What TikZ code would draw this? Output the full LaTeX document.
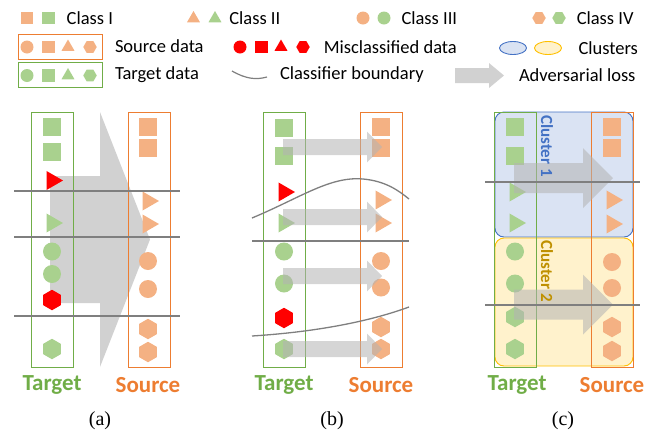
\documentclass[tikz,border=0pt]{standalone}
\usepackage{fontspec}
\setmainfont{Carlito}
\newfontfamily\capfont{Liberation Serif}
\usepackage{tikz}
\usetikzlibrary{shapes.geometric,positioning,calc}
\definecolor{orfill}{HTML}{F4B183}
\definecolor{grfill}{HTML}{A9D18E}
\definecolor{orline}{HTML}{ED7D31}
\definecolor{grline}{HTML}{70AD47}
\definecolor{bdline}{HTML}{7F7F7F}
\definecolor{advgray}{HTML}{B3B3B3}
\definecolor{clonel}{HTML}{4472C4}
\definecolor{clonef}{HTML}{DAE3F3}
\definecolor{cltwol}{HTML}{FFC000}
\definecolor{cltwof}{HTML}{FFF2CC}
\definecolor{cltwot}{HTML}{BF9000}

\begin{document}
\begin{tikzpicture}
[x=1pt,y=-1pt,
every node/.style={inner sep=0pt,outer sep=0pt},
sq/.style={rectangle,minimum size=18pt},
circ/.style={circle,minimum size=18pt},
tri/.style={regular polygon,regular polygon sides=3,shape border rotate=-90,minimum size=22pt},
hex/.style={regular polygon,regular polygon sides=6,shape border rotate=30,minimum size=20.5pt},
lsq/.style={rectangle,minimum size=12.5pt},
lcirc/.style={circle,minimum size=13pt},
ltri/.style={regular polygon,regular polygon sides=3,minimum size=15pt},
lhex/.style={regular polygon,regular polygon sides=6,minimum size=13.5pt},
legtext/.style={font=\fontsize{18.5}{20}\selectfont,anchor=west},
tbox/.style={draw=grline,line width=1pt,minimum width=42pt,minimum height=255pt},
sbox/.style={draw=orline,line width=1pt,minimum width=42pt,minimum height=255pt},
tlab/.style={font=\fontsize{23}{24}\selectfont\bfseries,text=grline},
slab/.style={font=\fontsize{23}{24}\selectfont\bfseries,text=orline},
caplab/.style={font=\capfont\fontsize{20}{22}\selectfont},
bline/.style={draw=bdline,line width=1.3pt},
advarrow/.style={fill=advgray,fill opacity=0.55},
cluster/.style={line width=0.9pt,rounded corners=9pt,minimum width=138pt},
cltext/.style={font=\fontsize{17}{18}\selectfont\bfseries,rotate=-90}]
\useasboundingbox (0,0) rectangle (657,432);

\node[lsq,fill=orfill] (l-o1) at (27,18) {};
\node[lsq,fill=grfill] (l-g1) at (48.5,18) {};
\node[legtext,right=12pt of l-g1] (l-c1) {Class I};
\node[ltri,fill=orfill] (l-o2) at (193.5,18.5) {};
\node[ltri,fill=grfill] (l-g2) at (215,18.5) {};
\node[legtext,right=10pt of l-g2] (l-c2) {Class II};
\node[lcirc,fill=orfill] (l-o3) at (363,18) {};
\node[lcirc,fill=grfill] (l-g3) at (384,18) {};
\node[legtext,right=11pt of l-g3] (l-c3) {Class III};
\node[lhex,fill=orfill] (l-o4) at (539,18) {};
\node[lhex,fill=grfill] (l-g4) at (559,18) {};
\node[legtext,right=11pt of l-g4] (l-c4) {Class IV};

\node[draw=orline,line width=1pt,minimum width=84pt,minimum height=25pt] (l-sbox) at (60,46.5) {};
\node[draw=grline,line width=1pt,minimum width=84pt,minimum height=25pt] (l-tbox) at (60,75) {};
\foreach \s/\x [count=\i] in {lcirc/27,lsq/48.5,ltri/68,lhex/90}{
  \node[\s,fill=orfill] (l-s\i) at (\x,47) {};
  \node[\s,fill=grfill] (l-t\i) at (\x,75.5) {};
  \node[\s,fill=red] (l-r\i) at (\x+213,47) {};
}
\node[legtext,right=13pt of l-sbox] (l-src) {Source data};
\node[legtext,right=13pt of l-tbox] (l-tgt) {Target data};
\node[legtext,right=14pt of l-r4] (l-mis) {Misclassified data};
\draw[bdline,line width=1.2pt] (232,71) .. controls (246,79) and (256,80) .. (267,77);
\node[legtext] (l-bnd) at (280,75) {Classifier boundary};
\fill[fill=advgray,fill opacity=0.6] (455,68) -- (489,68) -- (489,63) -- (504,75.5) -- (489,88) -- (489,83) -- (455,83) -- cycle;
\node[legtext] (l-adv) at (519,75) {Adversarial loss};
\node[ellipse,draw=clonel,fill=clonef,line width=0.9pt,minimum width=27pt,minimum height=13pt] (l-cl1) at (513,48) {};
\node[ellipse,draw=cltwol,fill=cltwof,line width=0.9pt,minimum width=27pt,minimum height=13pt] (l-cl2) at (548,48) {};
\node[legtext,right=17pt of l-cl2] (l-clu) {Clusters};

\fill[fill=advgray,fill opacity=0.6] (50,176) -- (100,176) -- (100,112) -- (150,239.5) -- (100,367) -- (100,303) -- (50,303) -- cycle;
\node[tbox] (a-tbox) at (52,239.5) {};
\node[sbox] (a-sbox) at (149,239.5) {};
\foreach \s/\c/\y [count=\i] in {sq/grfill/127,sq/grfill/152,tri/red/180.5,tri/grfill/223,circ/grfill/251.5,circ/grfill/274,hex/red/300,hex/grfill/349}
  \node[\s,fill=\c] (a-t\i) at (52,\y) {};
\foreach \s/\y [count=\i] in {sq/127,sq/148,tri/201,tri/224,circ/261,circ/289,hex/329,hex/352}
  \node[\s,fill=orfill] (a-s\i) at (148,\y) {};
\foreach \y in {191,237,316}
  \draw[bline] (14,\y) -- (180,\y);
\node[tlab] (a-tl) at (52,385) {Target};
\node[slab] (a-sl) at (148,385) {Source};
\node[caplab] (a-cap) at (100,421) {(a)};

\node[tbox] (b-tbox) at (284,239.5) {};
\node[sbox] (b-sbox) at (381,239.5) {};
\foreach \s/\c/\y [count=\i] in {sq/grfill/127.5,sq/grfill/156,tri/red/192,tri/grfill/223,circ/grfill/251.5,circ/grfill/283.5,hex/red/318,hex/grfill/349}
  \node[\s,fill=\c] (b-t\i) at (284,\y) {};
\foreach \s/\y [count=\i] in {sq/127,sq/148,tri/200,tri/223,circ/261,circ/287.5,hex/327,hex/349}
  \node[\s,fill=orfill] (b-s\i) at (381,\y) {};
\foreach \y in {147,217,276,349}
  \fill[advarrow] (283,\y-8) -- (367,\y-8) -- (367,\y-15.5) -- (382,\y) -- (367,\y+15.5) -- (367,\y+8) -- (283,\y+8) -- cycle;
\draw[bline] (252,218) .. controls (300,198) and (330,176) .. (363,179) .. controls (385,181) and (398,190) .. (409,199);
\draw[bline] (252,241) -- (409,241);
\draw[bline] (252,336) .. controls (300,333) and (360,325) .. (409,307);
\node[tlab] (b-tl) at (284,385) {Target};
\node[slab] (b-sl) at (381,385) {Source};
\node[caplab] (b-cap) at (332,421) {(b)};

\node[cluster,draw=clonel,fill=clonef,minimum height=125pt] (c-cl1) at (564,174.5) {};
\node[cluster,draw=cltwol,fill=cltwof,minimum height=128pt] (c-cl2) at (564,302) {};
\node[tbox] (c-tbox) at (515,239.5) {};
\node[sbox] (c-sbox) at (612.5,239.5) {};
\foreach \s/\y [count=\i] in {sq/127,sq/156,tri/192,tri/223,circ/251.5,circ/283.5,hex/317,hex/349}
  \node[\s,fill=grfill] (c-t\i) at (515,\y) {};
\foreach \s/\y [count=\i] in {sq/127,sq/148,tri/200,tri/224,circ/262,circ/288,hex/327,hex/351}
  \node[\s,fill=orfill] (c-s\i) at (612,\y) {};
\foreach \y in {178,304.5}
  \fill[advarrow] (514,\y-15) -- (583,\y-15) -- (583,\y-30) -- (613,\y) -- (583,\y+30) -- (583,\y+15) -- (514,\y+15) -- cycle;
\foreach \y in {182,305}
  \draw[bline] (485,\y) -- (640,\y);
\node[cltext,text=clonel] (c-cl1t) at (547,146) {Cluster 1};
\node[cltext,text=cltwot] (c-cl2t) at (547,271) {Cluster 2};
\node[tlab] (c-tl) at (517,385) {Target};
\node[slab] (c-sl) at (612,385) {Source};
\node[caplab] (c-cap) at (563,421) {(c)};
\end{tikzpicture}
\end{document}
